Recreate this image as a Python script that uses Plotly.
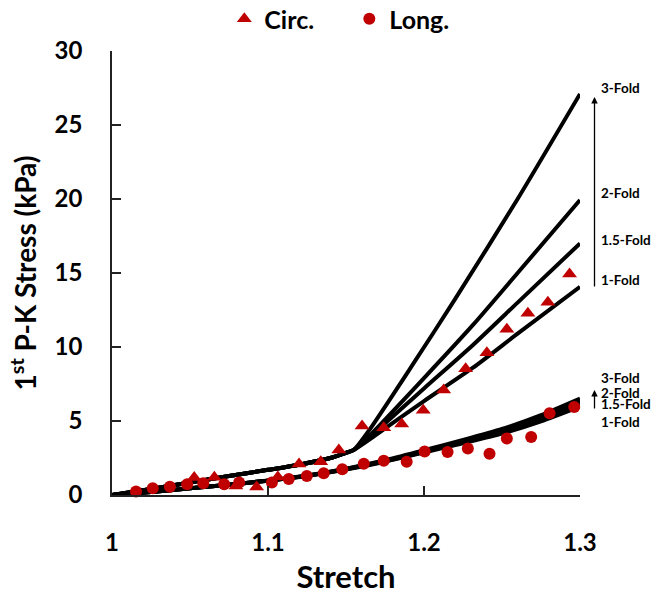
import plotly.graph_objects as go

# ---------------- data ----------------
circ_x = [1.0527, 1.0656, 1.0794, 1.0927, 1.1063, 1.1199, 1.1338, 1.1454, 1.1603, 1.1742,
          1.1857, 1.1995, 1.2126, 1.2267, 1.2403, 1.2531, 1.2666, 1.2794, 1.2933]
circ_y = [1.18, 1.20, 0.61, 0.54, 1.22, 2.09, 2.25, 3.04, 4.66, 4.55,
          4.80, 5.72, 7.09, 8.53, 9.61, 11.20, 12.28, 13.02, 14.93]

long_x = [1.0154, 1.0261, 1.0371, 1.0482, 1.0585, 1.0719, 1.0815, 1.1025, 1.1133, 1.1249,
          1.1357, 1.1476, 1.1614, 1.1742, 1.1889, 1.2004, 1.2151, 1.2281, 1.2420, 1.2531,
          1.2687, 1.2805, 1.2963]
long_y = [0.24, 0.45, 0.56, 0.72, 0.79, 0.72, 0.84, 0.84, 1.08, 1.28,
          1.47, 1.74, 2.11, 2.32, 2.25, 2.94, 2.91, 3.14, 2.79, 3.82,
          3.92, 5.52, 5.95]

# circumferential model curves (shared toe region, then fold-dependent)
circ_base_x = [1.0, 1.025, 1.05, 1.075, 1.1, 1.12, 1.14, 1.15, 1.155]
circ_base_y = [0.0, 0.40, 0.85, 1.28, 1.70, 2.05, 2.50, 2.85, 3.05]
circ_fold_x = {
    "1-Fold":   [1.165, 1.2, 1.2314, 1.26, 1.3],
    "1.5-Fold": [1.165, 1.2, 1.2314, 1.26, 1.3],
    "2-Fold":   [1.165, 1.2, 1.2314, 1.26, 1.3],
    "3-Fold":   [1.165, 1.1919, 1.2196, 1.26, 1.3],
}
circ_fold_y = {
    "1-Fold":   [3.75, 6.35, 8.60, 10.90, 14.07],
    "1.5-Fold": [3.90, 7.20, 10.14, 13.00, 17.00],
    "2-Fold":   [4.00, 7.90, 11.49, 15.00, 19.93],
    "3-Fold":   [4.40, 8.67, 13.18, 20.00, 27.10],
}

# longitudinal model curves
long_model_x = [1.0, 1.025, 1.05, 1.075, 1.1, 1.125, 1.15, 1.175, 1.2, 1.225, 1.25, 1.275, 1.3]
long_model_y = {
    "1-Fold":   [0, 0.20, 0.45, 0.70, 0.97, 1.29, 1.72, 2.25, 2.87, 3.50, 4.15, 4.98, 5.98],
    "1.5-Fold": [0, 0.20, 0.45, 0.70, 0.97, 1.30, 1.74, 2.28, 2.92, 3.56, 4.24, 5.10, 6.15],
    "2-Fold":   [0, 0.20, 0.45, 0.70, 0.97, 1.31, 1.76, 2.31, 2.97, 3.63, 4.34, 5.24, 6.33],
    "3-Fold":   [0, 0.20, 0.45, 0.70, 0.98, 1.32, 1.78, 2.35, 3.03, 3.72, 4.46, 5.40, 6.52],
}

x_ticks = [1.0, 1.1, 1.2, 1.3]
x_tick_labels = ["1", "1.1", "1.2", "1.3"]
y_ticks = [0, 5, 10, 15, 20, 25, 30]

upper_labels = ["3-Fold", "2-Fold", "1.5-Fold", "1-Fold"]
upper_label_y = [27.48, 20.38, 17.23, 14.53]
lower_labels = ["3-Fold", "2-Fold", "1.5-Fold", "1-Fold"]
lower_label_y = [7.89, 6.92, 6.15, 4.95]

# ---------------- figure ----------------
FONT = "Lato"
RED = "#C00000"
fig = go.Figure()

for k in ["1-Fold", "1.5-Fold", "2-Fold", "3-Fold"]:
    fig.add_trace(go.Scatter(
        x=circ_base_x + circ_fold_x[k], y=circ_base_y + circ_fold_y[k],
        mode="lines", line=dict(color="black", width=4, shape="spline", smoothing=0.6),
        showlegend=False, hoverinfo="skip"))
for k in ["1-Fold", "1.5-Fold", "2-Fold", "3-Fold"]:
    fig.add_trace(go.Scatter(
        x=long_model_x, y=long_model_y[k],
        mode="lines", line=dict(color="black", width=4, shape="spline", smoothing=0.6),
        showlegend=False, hoverinfo="skip"))

fig.add_trace(go.Scatter(
    x=circ_x, y=circ_y, mode="markers", name="Circ.",
    marker=dict(symbol="triangle-up", size=13, color=RED), cliponaxis=False))
fig.add_trace(go.Scatter(
    x=long_x, y=long_y, mode="markers", name="Long.",
    marker=dict(symbol="circle", size=12, color=RED), cliponaxis=False))

annotations = []
for t, yv in zip(upper_labels, upper_label_y):
    annotations.append(dict(x=1.3, y=yv, xref="x", yref="y", text=t, showarrow=False,
                            xanchor="left", yanchor="middle", xshift=19,
                            font=dict(family=FONT, size=13.5, color="black", weight="bold")))
for t, yv in zip(lower_labels, lower_label_y):
    annotations.append(dict(x=1.3, y=yv, xref="x", yref="y", text=t, showarrow=False,
                            xanchor="left", yanchor="middle", xshift=19,
                            font=dict(family=FONT, size=13.5, color="black", weight="bold")))
# vertical arrows (paper x just right of the plot, pixel offsets for tails)
arrow_xp = 1.031
annotations.append(dict(x=arrow_xp, y=26.9, xref="paper", yref="y", ax=0, ay=191,
                        showarrow=True, arrowhead=2, arrowsize=1, arrowwidth=1.3,
                        arrowcolor="black", text=""))
annotations.append(dict(x=arrow_xp, y=7.09, xref="paper", yref="y", ax=0, ay=20,
                        showarrow=True, arrowhead=2, arrowsize=1, arrowwidth=1.3,
                        arrowcolor="black", text=""))

fig.update_layout(
    width=661, height=598,
    margin=dict(l=112, r=80.5, t=51, b=103, autoexpand=False),
    paper_bgcolor="white", plot_bgcolor="white",
    font=dict(family=FONT, color="black"),
    showlegend=True,
    legend=dict(orientation="h", x=0.24, xanchor="left", y=1.072, yanchor="middle",
                font=dict(family=FONT, size=25, color="black", weight="bold"),
                entrywidth=80, entrywidthmode="pixels", bgcolor="rgba(0,0,0,0)"),
    annotations=annotations,
)
fig.update_xaxes(
    range=[1.0, 1.3], tickvals=x_ticks, ticktext=x_tick_labels, automargin=False,
    showgrid=False, zeroline=False, showline=True, linecolor="#222", linewidth=1.5,
    ticks="inside", ticklen=9, tickwidth=1.5, tickcolor="#222",
    ticklabelstandoff=25,
    tickfont=dict(family=FONT, size=24, color="black", weight="bold"),
    title=dict(text="Stretch", standoff=12,
               font=dict(family=FONT, size=31, color="black", weight="bold")),
)
fig.update_yaxes(
    range=[0, 30], tickvals=y_ticks, automargin=False,
    showgrid=False, zeroline=False, showline=True, linecolor="#222", linewidth=1.5,
    ticks="inside", ticklen=9, tickwidth=1.5, tickcolor="#222",
    ticklabelstandoff=23,
    tickfont=dict(family=FONT, size=24, color="black", weight="bold"),
    title=dict(text="1<sup>st</sup> P-K Stress (kPa)", standoff=10,
               font=dict(family=FONT, size=28, color="black", weight="bold")),
)

fig.write_html("out.html", config={"displayModeBar": False},
               post_script="document.body.style.margin='0px';document.body.style.padding='0px';")
